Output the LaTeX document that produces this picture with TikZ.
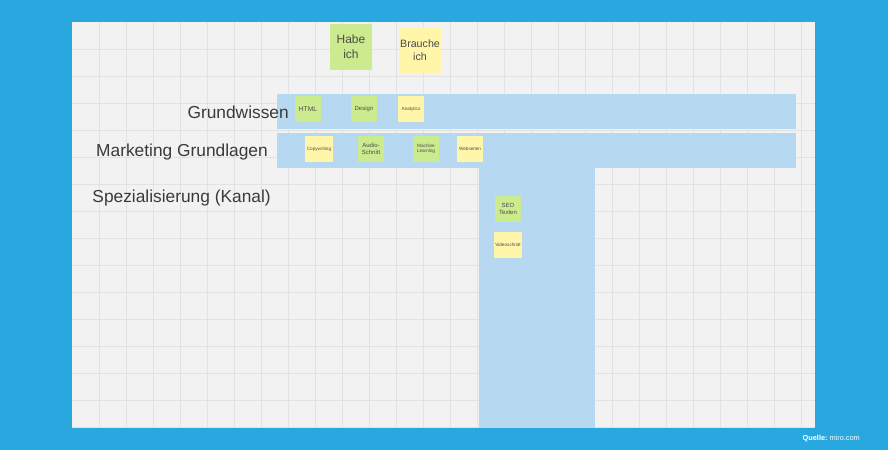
\documentclass[tikz,border=0pt]{standalone}
\usepackage{fontspec}
\setmainfont{Liberation Sans}
\definecolor{frame}{HTML}{29A8E0}
\definecolor{canvas}{HTML}{F2F2F2}
\definecolor{gridline}{HTML}{E2E2E2}
\definecolor{band}{HTML}{B6D8F1}
\definecolor{notegreen}{HTML}{CBEB8E}
\definecolor{noteyellow}{HTML}{FFF6A9}
\definecolor{labelgray}{HTML}{3A3A3A}

\tikzset{
    rowlabel/.style={font=\fontsize{13}{15}\selectfont, text=labelgray, anchor=east, inner sep=0pt},
    note/.style={minimum width=20pt, minimum height=20pt, inner sep=1pt, align=center,
        font=\fontsize{3.5}{4}\selectfont, text=black!70},
    bignote/.style={minimum width=32pt, minimum height=34pt, inner sep=1pt, align=center,
        font=\fontsize{8}{10}\selectfont, text=black!70},
    green note/.style={note, fill=notegreen},
    yellow note/.style={note, fill=noteyellow},
}

\begin{document}
\begin{tikzpicture}[x=0.75pt, y=-0.75pt]
\fill[frame] (0,0) rectangle (888,450);
\node[text=white, font=\fontsize{5.5}{6}\selectfont, anchor=east, inner sep=0pt] (quelle) at (860,439) {\textbf{Quelle:}\ miro.com};
\fill[canvas] (72,22) rectangle (815,428);
\begin{scope}
\clip (72,22) rectangle (815,428);
\foreach \gx in {99,126,...,815} \draw[gridline, line width=0.4pt] (\gx,22) -- (\gx,428);
\foreach \gy in {49,76,...,428} \draw[gridline, line width=0.4pt] (72,\gy) -- (815,\gy);
\end{scope}

% bands
\fill[band] (277,94) rectangle (796,129);
\fill[band] (277,133) rectangle (796,168);
\fill[band] (479,168) rectangle (595,428);

% row labels
\node[rowlabel] (grundwissen) at (289,112) {Grundwissen};
\node[rowlabel] (marketing) at (268,152) {Marketing Grundlagen};
\node[rowlabel] (spezial) at (271,198) {Spezialisierung (Kanal)};

% legend
\node[bignote, fill=notegreen, font=\fontsize{9}{11}\selectfont] (habe) at (351,47) {Habe\\ich};
\node[bignote, fill=noteyellow] (brauche) at (420,50) {Brauche\\ich};

% Grundwissen
\node[green note, font=\fontsize{5}{6}\selectfont] (html) at (308,109) {HTML};
\node[green note, font=\fontsize{4.5}{5}\selectfont] (design) at (364,109) {Design};
\node[yellow note] (analytics) at (411,109) {Analytics};

% Marketing Grundlagen
\node[yellow note] (copy) at (319,149) {Copywriting};
\node[green note, font=\fontsize{4.5}{5}\selectfont] (audio) at (371,149) {Audio-\\Schnitt};
\node[green note] (ml) at (426,149) {Machine\\Learning};
\node[yellow note] (web) at (470,149) {Webseiten};

% Spezialisierung
\node[green note, font=\fontsize{4.5}{5}\selectfont] (seo) at (508,209) {SEO\\Texten};
\node[yellow note] (video) at (508,245) {Videoschnitt};
\end{tikzpicture}
\end{document}
